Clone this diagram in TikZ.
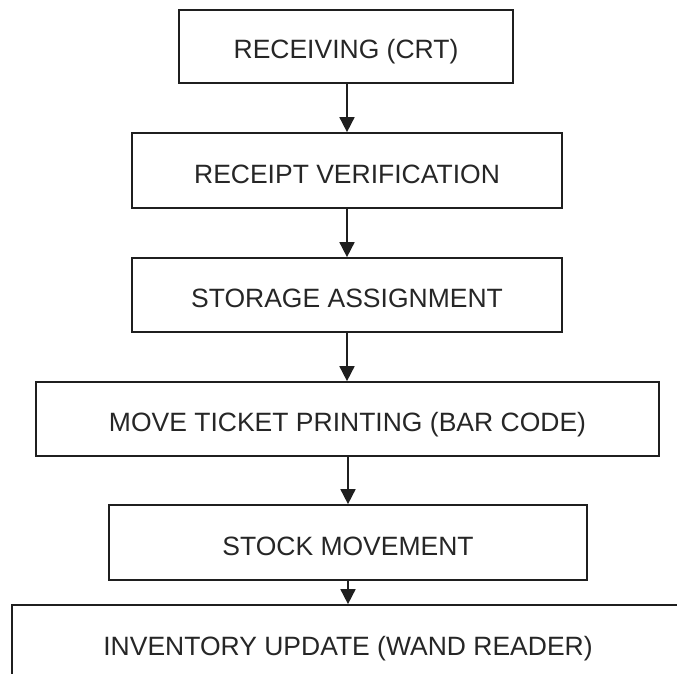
\documentclass[tikz,border=0pt]{standalone}
\usepackage{fontspec}
\setmainfont{Liberation Sans}
\usetikzlibrary{arrows.meta}

\tikzset{
  stage/.style={draw=black!88, line width=1.7pt, rectangle, inner sep=0pt,
    text=black!85, font=\fontsize{26.5}{30}\selectfont,
    text height=25pt, text depth=0pt},
  flow/.style={draw=black!88, line width=1.7pt,
    -{Triangle[width=15pt,length=15pt]}},
}

\begin{document}
\begin{tikzpicture}[x=1pt, y=-1pt]
  \useasboundingbox (0,0) rectangle (677,674);
  \clip (0,0) rectangle (677,674);

  \node[stage, minimum width=334pt, minimum height=73pt] (recv)  at (346,46.5) {RECEIVING (CRT)};
  \node[stage, minimum width=430pt, minimum height=75pt] (verif) at (347,170.5) {RECEIPT VERIFICATION};
  \node[stage, minimum width=430pt, minimum height=74pt] (store) at (347,295) {STORAGE ASSIGNMENT};
  \node[stage, minimum width=623pt, minimum height=74pt] (ticket) at (347.5,419) {MOVE TICKET PRINTING (BAR CODE)};
  \node[stage, minimum width=478pt, minimum height=75pt] (move)  at (348,542.5) {STOCK MOVEMENT};
  \node[stage, minimum width=672pt, minimum height=76pt] (inv)   at (348,643) {INVENTORY UPDATE (WAND READER)};

  \draw[flow] (recv.south -| 347,0) -- (verif.north -| 347,0);
  \draw[flow] (verif.south -| 347,0) -- (store.north -| 347,0);
  \draw[flow] (store.south -| 347,0) -- (ticket.north -| 347,0);
  \draw[flow] (ticket.south -| 348,0) -- (move.north -| 348,0);
  \draw[flow] (move.south -| 348,0) -- (inv.north -| 348,0);
\end{tikzpicture}
\end{document}
